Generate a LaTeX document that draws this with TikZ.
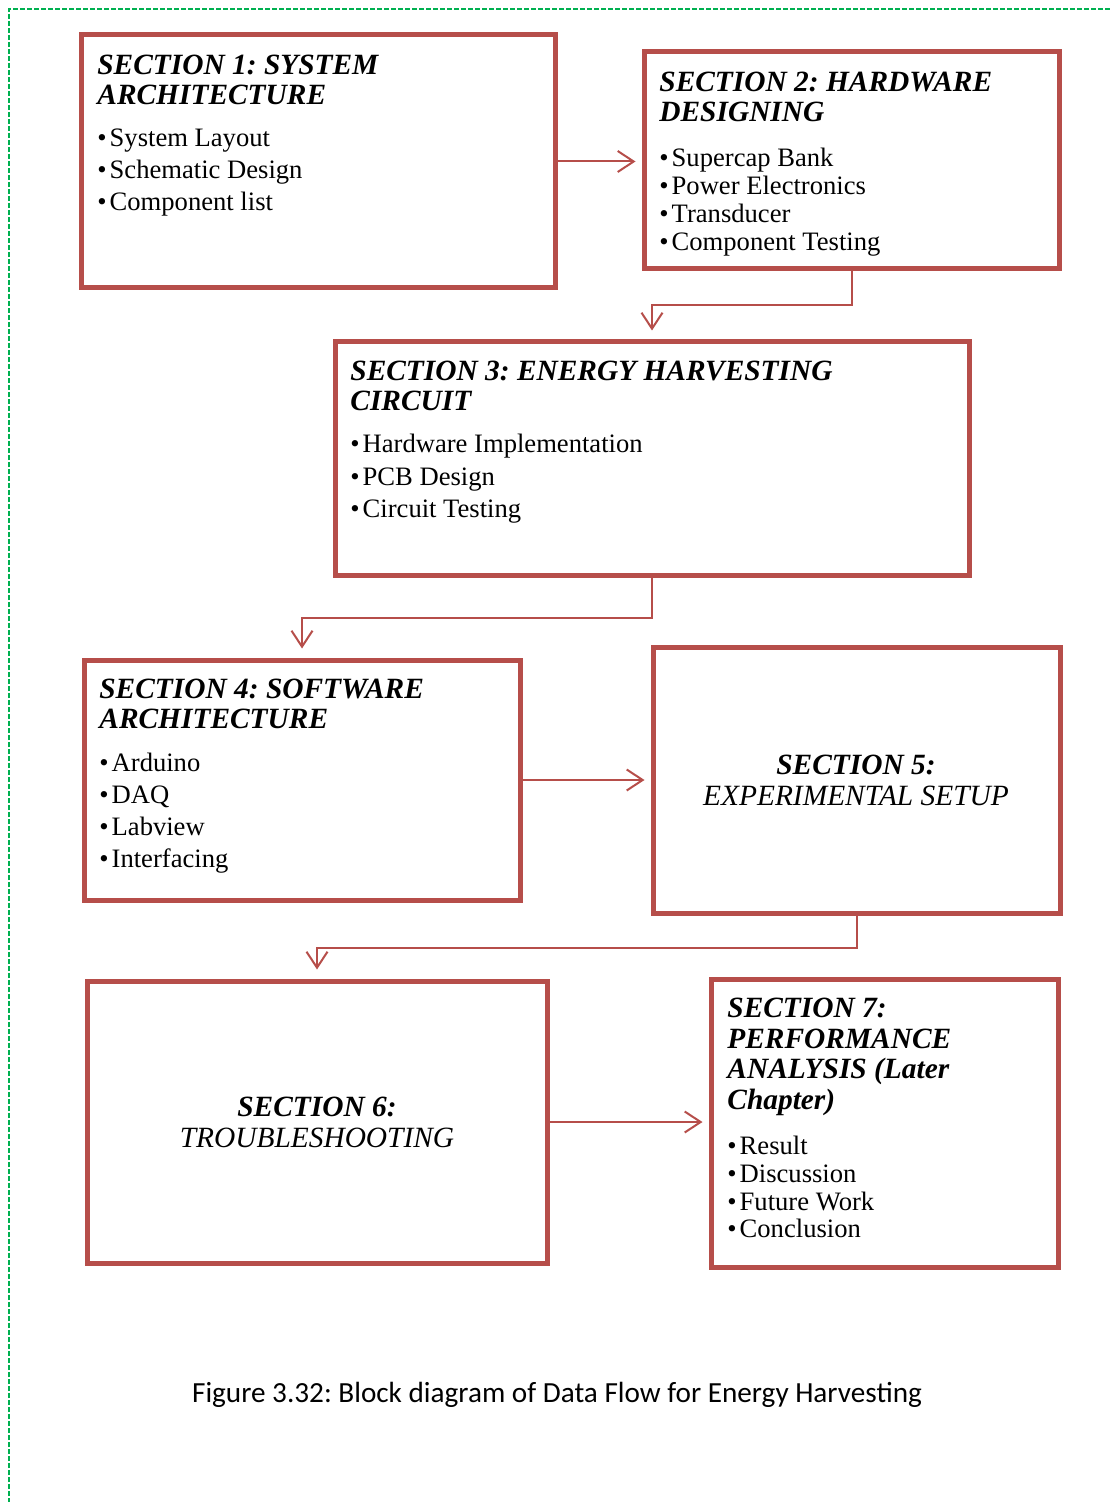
\documentclass[tikz,border=0pt]{standalone}
\usepackage{fontspec}
\setmainfont{Liberation Serif}
\newfontfamily\capfont{Carlito}
\frenchspacing
\usetikzlibrary{
  arrows.meta,
  calc,
  fit,
  positioning
}
\definecolor{boxred}{RGB}{182,78,74}
\definecolor{framegreen}{RGB}{0,176,80}
\newcommand{\bul}{\textbullet\hspace{1.5pt}}
\tikzset{
  secbox/.style={draw=boxred,line width=2.5pt,inner sep=0pt},
  sectitle/.style={font=\fontsize{14.7}{15}\selectfont\bfseries\itshape,
    align=left,inner sep=0pt,anchor=north west},
  seclist/.style={font=\fontsize{13.3}{#1}\selectfont,
    align=left,inner sep=0pt,anchor=north west},
  seclist/.default=16pt,
  secmid/.style={font=\fontsize{14.7}{15.5}\selectfont,
    align=center,inner sep=0pt,anchor=north},
  flow/.style={-{Straight Barb[length=8pt,width=10.5pt]},line width=1pt,
    draw=boxred,shorten >=3pt},
  downflow/.style={flow,shorten >=4.5pt},
  pageframe/.style={draw=framegreen,line width=0.7pt,dash pattern=on 2.5pt off 1pt},
  caption/.style={font=\capfont\fontsize{14.6}{16}\selectfont,inner sep=0pt,anchor=base}
}
\begin{document}
\begin{tikzpicture}[x=0.5pt,y=-0.5pt]
  \useasboundingbox (0,0) rectangle (1110,1502);
  \draw[pageframe] (9,1510) |- (1115,9);
  \node[secbox,fit={(81,35) (555,288)}] (sa) {};
  \node[secbox,fit={(644,52) (1059,269)}] (hw) {};
  \node[secbox,fit={(335,342) (969,575)}] (eh) {};
  \node[secbox,fit={(84,660) (520,900)}] (sw) {};
  \node[secbox,fit={(653,647) (1060,913)}] (ex) {};
  \node[secbox,fit={(87,981) (547,1263)}] (tr) {};
  \node[secbox,fit={(711,979) (1058,1267)}] (pa) {};
  \node[sectitle] (sat) at (97,55) {SECTION 1: SYSTEM\\ARCHITECTURE};
  \node[seclist] (sal) at (97,128) {\bul System Layout\\\bul Schematic Design\\\bul Component list};
  \node[sectitle] (hwt) at (659,72) {SECTION 2: HARDWARE\\DESIGNING};
  \node[seclist=14pt] (hwl) at (659,148) {\bul Supercap Bank\\\bul Power Electronics\\\bul Transducer\\\bul Component Testing};
  \node[sectitle] (eht) at (350,361) {SECTION 3: ENERGY HARVESTING\\CIRCUIT};
  \node[seclist=16.25pt] (ehl) at (350,434) {\bul Hardware Implementation\\\bul PCB Design\\\bul Circuit Testing};
  \node[sectitle] (swt) at (99,679) {SECTION 4: SOFTWARE\\ARCHITECTURE};
  \node[seclist] (swl) at (99,753) {\bul Arduino\\\bul DAQ\\\bul Labview\\\bul Interfacing};
  \node[secmid] (exl) at (856,755) {{\bfseries\itshape SECTION 5:}\\{\itshape EXPERIMENTAL SETUP}};
  \node[secmid] (trl) at (317,1097) {{\bfseries\itshape SECTION 6:}\\{\itshape TROUBLESHOOTING}};
  \node[sectitle,font=\fontsize{14.7}{15.25}\selectfont\bfseries\itshape] (pat) at (727,998) {SECTION 7:\\PERFORMANCE\\ANALYSIS (Later\\Chapter)};
  \node[seclist=13.85pt] (pal) at (727,1136) {\bul Result\\\bul Discussion\\\bul Future Work\\\bul Conclusion};
  \draw[flow] (sa.east) -- (sa.east -| hw.west);
  \draw[downflow] (hw.south) -- ++(0,34) -| (eh.north);
  \draw[downflow] (eh.south) -- ++(0,40) -| (sw.north);
  \draw[flow] (sw.east) -- (sw.east -| ex.west);
  \draw[downflow] (ex.south) -- ++(0,32) -| (tr.north);
  \draw[flow] (tr.east) -- (tr.east -| pa.west);
  \node[caption] (cap) at (557,1402) {Figure 3.32: Block diagram of Data Flow for Energy Harvesting};
\end{tikzpicture}
\end{document}
